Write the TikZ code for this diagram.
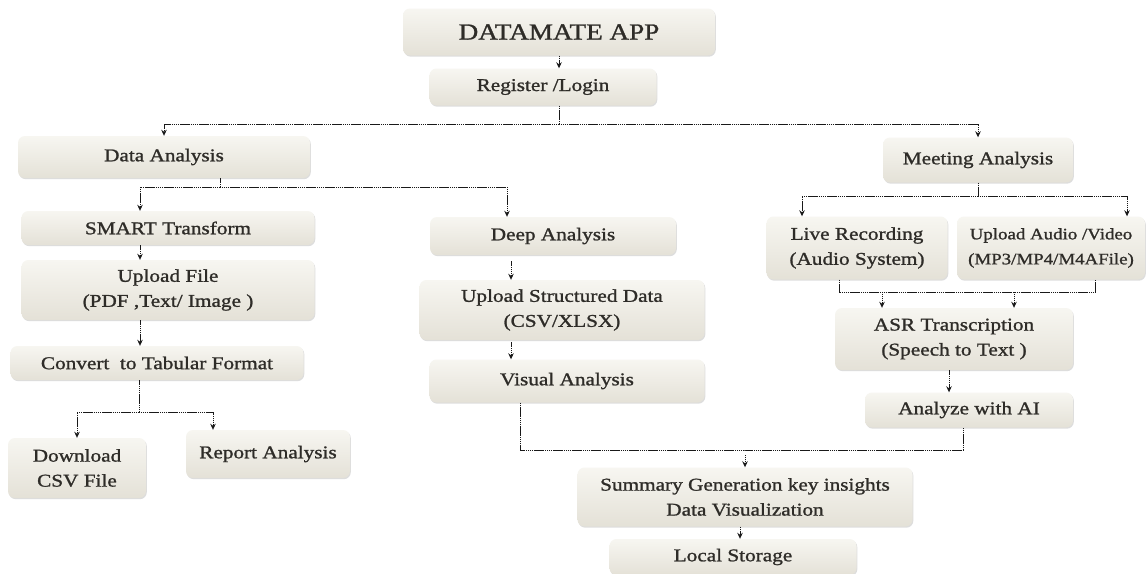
\documentclass[tikz,border=0pt]{standalone}
\usepackage{fontspec}
\setmainfont{Liberation Serif}[FakeStretch=1.18,FakeBold=1.2]
\usetikzlibrary{arrows.meta,shadows,calc}
\definecolor{boxtop}{HTML}{F7F6F1}
\definecolor{boxbot}{HTML}{E4E1D7}
\definecolor{txt}{HTML}{2E2C28}
\begin{document}
\begin{tikzpicture}[x=1pt,y=-1pt,
  box/.style={rounded corners=7pt, top color=boxtop, bottom color=boxbot, draw=none, text=txt,
    font=\fontsize{18}{25}\selectfont, align=center, inner sep=0pt,
    drop shadow={shadow xshift=0.8pt,shadow yshift=-1.2pt,opacity=0.22,fill=black!60}},
  conn/.style={draw=black!90, line width=0.9pt, dash pattern=on 1.4pt off 0.5pt},
  arr/.style={conn, -{Stealth[length=6pt,width=5.5pt]}}]
\clip (0,0) rectangle (1147,573);
\useasboundingbox (0,0) rectangle (1147,573);
\fill[white] (0,0) rectangle (1147,573);

% nodes
\node[box, minimum width=312pt, minimum height=47pt, font=\fontsize{23}{28}\selectfont] (app) at (559,32) {DATAMATE APP};
\node[box, minimum width=227pt, minimum height=37pt] (reg) at (543,87) {Register /Login};
\node[box, minimum width=292pt, minimum height=42pt] (da) at (164,157) {Data Analysis};
\node[box, minimum width=190pt, minimum height=45pt] (ma) at (978,160) {Meeting Analysis};
\node[box, minimum width=293pt, minimum height=34pt] (sm) at (168,228) {SMART Transform};
\node[box, minimum width=293pt, minimum height=60pt] (uf) at (168,290) {Upload File\\(PDF ,Text/ Image )};
\node[box, minimum width=293pt, minimum height=34pt] (conv) at (157,363) {Convert\ \ to Tabular Format};
\node[box, minimum width=138pt, minimum height=60pt] (dl) at (77,468) {Download\\CSV File};
\node[box, minimum width=164pt, minimum height=48pt] (ra) at (268,454) {Report Analysis};
\node[box, minimum width=246pt, minimum height=38pt] (deep) at (553,236) {Deep Analysis};
\node[box, minimum width=285pt, minimum height=60pt] (usd) at (562,310) {Upload Structured Data\\(CSV/XLSX)};
\node[box, minimum width=275pt, minimum height=43pt] (va) at (567,381) {Visual Analysis};
\node[box, minimum width=181pt, minimum height=63pt] (lr) at (857,248) {Live Recording\\(Audio System)};
\node[box, minimum width=188pt, minimum height=63pt, font=\fontsize{16}{25}\selectfont] (ua) at (1051,248) {Upload Audio /Video\\(MP3/MP4/M4AFile)};
\node[box, minimum width=238pt, minimum height=62pt] (asr) at (954,339) {ASR Transcription\\(Speech to Text )};
\node[box, minimum width=208pt, minimum height=35pt] (aai) at (969,410) {Analyze with AI};
\node[box, minimum width=335pt, minimum height=59pt] (sum) at (745,497) {Summary Generation key insights\\Data Visualization};
\node[box, minimum width=247pt, minimum height=36pt] (ls) at (733,557) {Local Storage};

% helper coordinates
\coordinate (b1) at (560,124);
\coordinate (b2) at (220,187);
\coordinate (b3) at (139,412);
\coordinate (b4) at (745,450);
\coordinate (b5) at (978,196);
\coordinate (b6) at (882,292);
\coordinate (colL) at (140,0);
\coordinate (colD) at (507,0);
\coordinate (colD2) at (511,0);
\coordinate (colR) at (213,0);
\coordinate (colV) at (520,0);
\coordinate (colA) at (963,0);
\coordinate (colS) at (740,0);
\coordinate (colLR) at (802,0);
\coordinate (colUA) at (1127,0);
\coordinate (c1) at (839,0);
\coordinate (c2) at (1095,0);
\coordinate (c3) at (1014,0);
\coordinate (c4) at (949,0);

% connectors
\draw[arr] (app.south) -- (app.south |- reg.north);
\draw[conn] (app.south |- reg.south) -- (app.south |- b1);
\draw[arr] (app.south |- b1) -| (da.north);
\draw[arr] (app.south |- b1) -| (ma.north);

\draw[conn] (da.south -| b2) -- (b2);
\draw[arr] (b2) -| (sm.north -| colL);
\draw[arr] (b2) -| (deep.north -| colD);
\draw[arr] (sm.south -| colL) -- (uf.north -| colL);
\draw[arr] (uf.south -| colL) -- (conv.north -| colL);
\draw[conn] (conv.south -| b3) -- (b3);
\draw[arr] (b3) -| (dl.north);
\draw[arr] (b3) -| (ra.north -| colR);

\draw[arr, shorten <=6pt] (deep.south -| colD2) -- (usd.north -| colD2);
\draw[arr, shorten <=2pt] (usd.south -| colD2) -- (va.north -| colD2);
\draw[conn] (va.south -| colV) |- (b4) -| (aai.south -| colA);
\draw[arr, shorten <=5pt] (b4) -- (sum.north);
\draw[arr] (sum.south -| colS) -- (ls.north -| colS);

\draw[conn] (ma.south) -- (b5);
\draw[arr] (b5) -| (lr.north -| colLR);
\draw[arr] (b5) -| (ua.north -| colUA);
\draw[conn] (lr.south -| c1) -- (c1 |- b6) -- (c2 |- b6) -- (ua.south -| c2);
\draw[arr] (b6) -- (asr.north -| b6);
\draw[arr] (c3 |- b6) -- (asr.north -| c3);
\draw[arr] (asr.south -| c4) -- (aai.north -| c4);
\end{tikzpicture}
\end{document}
